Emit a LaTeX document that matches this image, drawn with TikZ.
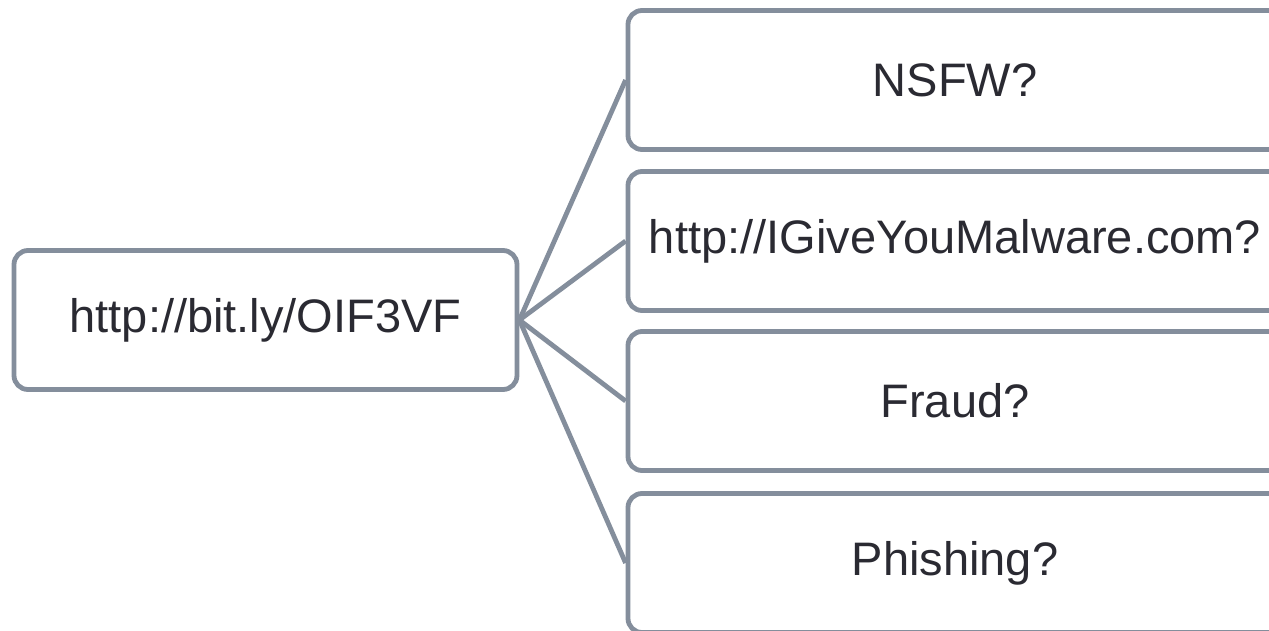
\documentclass[tikz,border=0pt]{standalone}
\usepackage{fontspec}
\setmainfont{Liberation Sans}
\definecolor{edgegray}{HTML}{848E9C}
\definecolor{txt}{HTML}{2A2A32}
\begin{document}
\begin{tikzpicture}[x=1pt,y=-1pt,
  box/.style={draw=edgegray,line width=4.8pt,rounded corners=14pt,fill=white,
    text=txt,font=\fontsize{47}{56}\selectfont,inner sep=0pt,anchor=center,
    minimum height=139pt},
  leftbox/.style={box,minimum width=503pt},
  rightbox/.style={box,minimum width=654pt},
  conn/.style={draw=edgegray,line width=4.8pt}]
\useasboundingbox (0,0) rectangle (1269,630);
\clip (0,0) rectangle (1269,630);
\fill[white] (0,0) rectangle (1269,630);
\node[leftbox] (src) at (265.5,320) {http://bit.ly/OIF3VF};
\node[rightbox] (n1) at (955,80) {NSFW?};
\node[rightbox] (n2) at (955,241) {http://IGiveYouMalware.com?};
\node[rightbox] (n3) at (955,401) {Fraud?};
\node[rightbox] (n4) at (955,563) {Phishing?};
\foreach \n in {n1,n2,n3,n4} \draw[conn] (src.east) -- (\n.west);
\end{tikzpicture}
\end{document}
